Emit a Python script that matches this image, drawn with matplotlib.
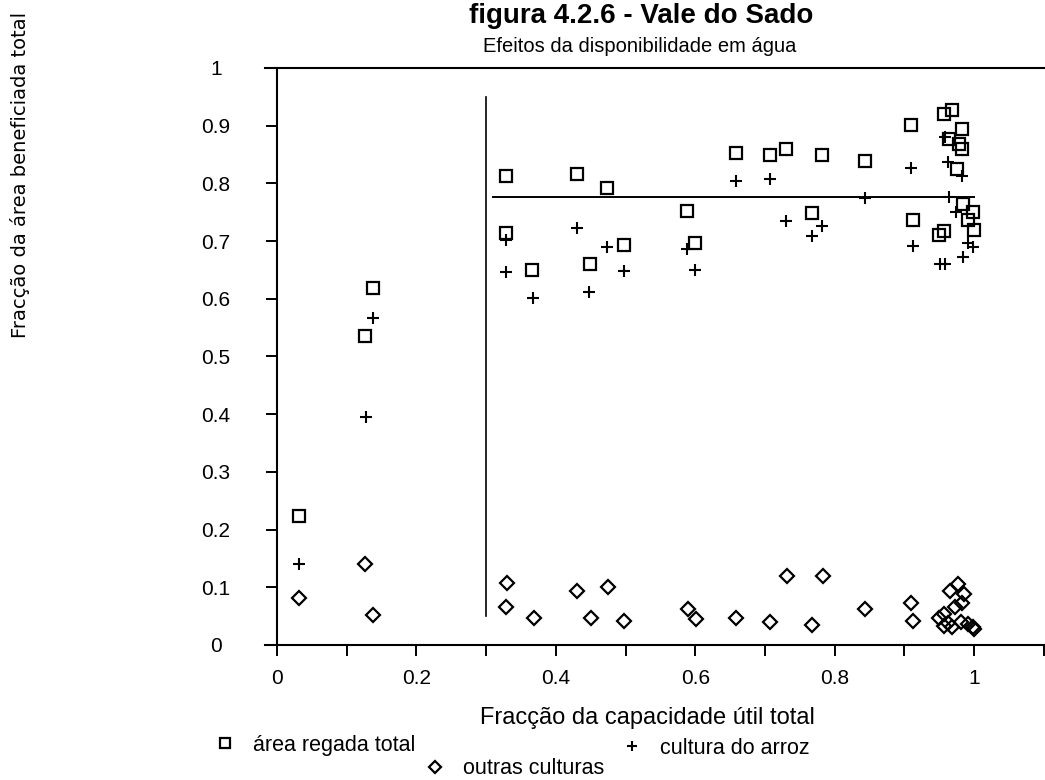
import matplotlib
matplotlib.use("Agg")
import matplotlib.pyplot as plt
from matplotlib.ticker import MultipleLocator, FixedLocator

# ---------------- data ----------------
sq_x = [0.031, 0.126, 0.137, 0.329, 0.329, 0.366, 0.430, 0.449, 0.474, 0.498,
        0.588, 0.600, 0.658, 0.707, 0.730, 0.767, 0.782, 0.843, 0.909, 0.913,
        0.950, 0.957, 0.957, 0.969, 0.964, 0.979, 0.983, 0.983, 0.975, 0.984,
        0.991, 0.998, 1.000]
sq_y = [0.224, 0.536, 0.619, 0.812, 0.714, 0.650, 0.816, 0.660, 0.792, 0.693,
        0.753, 0.697, 0.852, 0.850, 0.859, 0.749, 0.849, 0.839, 0.901, 0.737,
        0.711, 0.718, 0.920, 0.927, 0.877, 0.868, 0.895, 0.859, 0.825, 0.764,
        0.736, 0.750, 0.720]

pl_x = [0.031, 0.128, 0.137, 0.329, 0.328, 0.367, 0.430, 0.448, 0.474, 0.498,
        0.588, 0.600, 0.658, 0.707, 0.730, 0.767, 0.782, 0.843, 0.909, 0.913,
        0.951, 0.958, 0.958, 0.963, 0.983, 0.964, 0.974, 0.991, 0.999, 0.984]
pl_y = [0.140, 0.395, 0.566, 0.702, 0.646, 0.601, 0.722, 0.611, 0.689, 0.649,
        0.687, 0.650, 0.805, 0.808, 0.735, 0.709, 0.727, 0.775, 0.826, 0.692,
        0.660, 0.660, 0.880, 0.837, 0.813, 0.777, 0.751, 0.696, 0.689, 0.673]

di_x = [0.031, 0.126, 0.138, 0.330, 0.328, 0.368, 0.431, 0.450, 0.475, 0.498,
        0.589, 0.601, 0.658, 0.707, 0.731, 0.767, 0.783, 0.844, 0.909, 0.913,
        0.950, 0.957, 0.965, 0.977, 0.985, 0.983, 0.973, 0.957, 0.963, 0.969,
        0.982, 0.991, 0.998, 1.000]
di_y = [0.082, 0.140, 0.052, 0.108, 0.066, 0.046, 0.094, 0.047, 0.100, 0.042,
        0.062, 0.045, 0.046, 0.040, 0.120, 0.035, 0.120, 0.062, 0.072, 0.042,
        0.046, 0.054, 0.094, 0.106, 0.088, 0.073, 0.066, 0.033, 0.038, 0.031,
        0.039, 0.036, 0.032, 0.028]

series_labels = ["área regada total", "cultura do arroz", "outras culturas"]

# reference lines
vline_x, vline_ymin, vline_ymax = 0.30, 0.05, 0.95
hline_y, hline_xmin, hline_xmax = 0.776, 0.31, 1.0

x_major = [0, 0.2, 0.4, 0.6, 0.8, 1.0]
x_major_labels = ["0", "0.2", "0.4", "0.6", "0.8", "1"]
y_ticks = [0, 0.1, 0.2, 0.3, 0.4, 0.5, 0.6, 0.7, 0.8, 0.9, 1.0]
y_labels = ["0", "0.1", "0.2", "0.3", "0.4", "0.5", "0.6", "0.7", "0.8", "0.9", "1"]

# ---------------- figure ----------------
W, H = 1045, 780
fig = plt.figure(figsize=(W / 100, H / 100), dpi=100)
ax = fig.add_axes([264.5 / W, 135 / H, (W - 264.5) / W, 577 / H])

font = "Liberation Sans"

h1, = ax.plot(sq_x, sq_y, ls="none", marker="s", ms=9, mfc="none", mec="black",
              mew=1.6, label=series_labels[0])
h2, = ax.plot(pl_x, pl_y, ls="none", marker="+", ms=9, mec="black",
              mew=1.5, label=series_labels[1])
h3, = ax.plot(di_x, di_y, ls="none", marker="D", ms=7.2, mfc="none", mec="black",
              mew=1.6, label=series_labels[2])

ax.plot([vline_x, vline_x], [vline_ymin, vline_ymax], color="black", lw=1.2)
ax.plot([hline_xmin, hline_xmax], [hline_y, hline_y], color="black", lw=1.4)

ax.set_xlim(-0.018, (W - 277) / 697)
ax.set_ylim(0, 1)

for s in ["top", "bottom", "left"]:
    ax.spines[s].set_linewidth(1.5)
ax.spines["right"].set_visible(False)
ax.spines["left"].set_position(("data", 0))

ax.xaxis.set_major_locator(FixedLocator(x_major))
ax.set_xticklabels(x_major_labels, fontfamily=font, fontsize=15)
ax.xaxis.set_minor_locator(MultipleLocator(0.1))
ax.tick_params(axis="x", which="both", direction="out", length=8, width=1.4, pad=9)
ax.set_yticks(y_ticks)
ax.set_yticklabels(y_labels, fontfamily=font, fontsize=15, ha="center")
ax.tick_params(axis="y", direction="out", length=8, width=1.4, pad=36)

# texts
fig.text(641 / W, 1 - 23 / H, "figura 4.2.6 - Vale do Sado", ha="center", va="baseline",
         fontfamily=font, fontsize=20, fontweight="bold")
fig.text(640 / W, 1 - 47 / H, "Efeitos da disponibilidade em água", ha="center",
         va="center", fontfamily=font, fontsize=14.5)
fig.text(647 / W, 1 - 718 / H, "Fracção da capacidade útil total", ha="center",
         va="center", fontfamily=font, fontsize=17)
fig.text(20 / W, 1 - 175 / H, "Fracção da área beneficiada total", ha="center",
         va="center", rotation=90, fontfamily="DejaVu Sans", fontsize=14)

# legend entries (staggered like the original)
leg_pos = [(214, 745, h1), (621, 748, h2), (424, 769, h3)]
for lx, ly, hnd in leg_pos:
    fig.legend(handles=[hnd], loc="center left",
               bbox_to_anchor=(lx / W, 1 - ly / H), frameon=False,
               handlelength=1.0, handletextpad=0.8, borderpad=0,
               borderaxespad=0, prop={"family": font, "size": 15.5},
               markerscale=0.8)

fig.savefig("out.png", dpi=100)
